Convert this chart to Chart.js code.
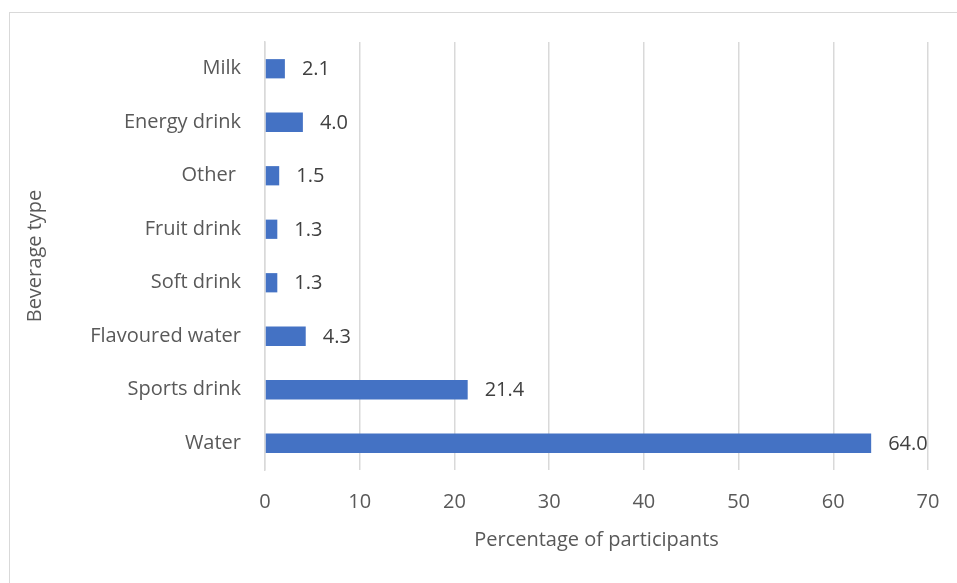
<!DOCTYPE html>
<html>
<head>
<meta charset="utf-8">
<script src="https://cdn.jsdelivr.net/npm/chart.js@4"></script>
<style>
  html, body { margin:0; padding:0; background:#fff; }
  #wrap { width:957px; height:583px; position:relative; }
</style>
</head>
<body>
<div id="wrap"><canvas id="chart" width="957" height="583"></canvas></div>
<script>
// beverage data, top to bottom as drawn
const categories = ['Milk', 'Energy drink', 'Other ', 'Fruit drink', 'Soft drink', 'Flavoured water', 'Sports drink', 'Water'];
const percentages = [2.1, 4.0, 1.5, 1.3, 1.3, 4.3, 21.4, 64.0];
const xTicks = [0, 10, 20, 30, 40, 50, 60, 70];

const FONT = "'Open Sans', sans-serif";

// outer frame (only top and left edges fall inside the window)
const framePlugin = {
  id:'frame',
  beforeDraw(chart){
    const c = chart.ctx;
    c.save();
    c.fillStyle = '#fff';
    c.fillRect(0,0,chart.width,chart.height);
    c.strokeStyle = '#d9d9d9';
    c.lineWidth = 1;
    c.strokeRect(9.5, 12.5, 960, 600);
    c.restore();
  }
};

// value labels right of each bar
const valueLabels = {
  id:'valueLabels',
  afterDatasetsDraw(chart){
    const c = chart.ctx;
    const meta = chart.getDatasetMeta(0);
    c.save();
    c.font = '20px ' + FONT;
    c.fillStyle = '#404040';
    c.textAlign = 'left';
    c.textBaseline = 'middle';
    meta.data.forEach((bar, i)=>{
      c.fillText(percentages[i].toFixed(1), bar.x + 17, bar.y + 1);
    });
    c.restore();
  }
};

new Chart(document.getElementById('chart').getContext('2d'), {
  type:'bar',
  data:{
    labels: categories,
    datasets:[{ data: percentages, backgroundColor:'#4472c4', borderWidth:0,
      barPercentage:0.72, categoryPercentage:0.5 }]
  },
  options:{
    indexAxis:'y',
    responsive:false,
    animation:false,
    layout:{ padding:{ top:42, right:29, left:0, bottom:0 } },
    plugins:{ legend:{ display:false }, tooltip:{ enabled:false } },
    scales:{
      x:{
        min:0, max:70,
        afterBuildTicks(scale){ scale.ticks = xTicks.map(v=>({ value:v })); },
        afterFit(scale){ scale.height = 113; scale.paddingRight = 0; scale.paddingLeft = 0; },
        grid:{ color:'#d9d9d9', lineWidth:1.5, drawTicks:false },
        border:{ display:false },
        ticks:{ color:'#595959', font:{ family:FONT, size:20 }, padding:20 },
        title:{ display:true, text:'Percentage of participants', color:'#595959',
          font:{ family:FONT, size:20 }, padding:{ top:0, bottom:31 } }
      },
      y:{
        afterFit(scale){ scale.width = 265; },
        grid:{ display:false },
        border:{ display:true, color:'#d9d9d9', width:1.5 },
        ticks:{ color:'#595959', font:{ family:FONT, size:20 }, padding:16 },
        title:{ display:true, text:'Beverage type', color:'#595959',
          font:{ family:FONT, size:20 }, padding:{ top:23, bottom:0 } }
      }
    }
  },
  plugins:[framePlugin, valueLabels]
});
</script>
</body>
</html>
